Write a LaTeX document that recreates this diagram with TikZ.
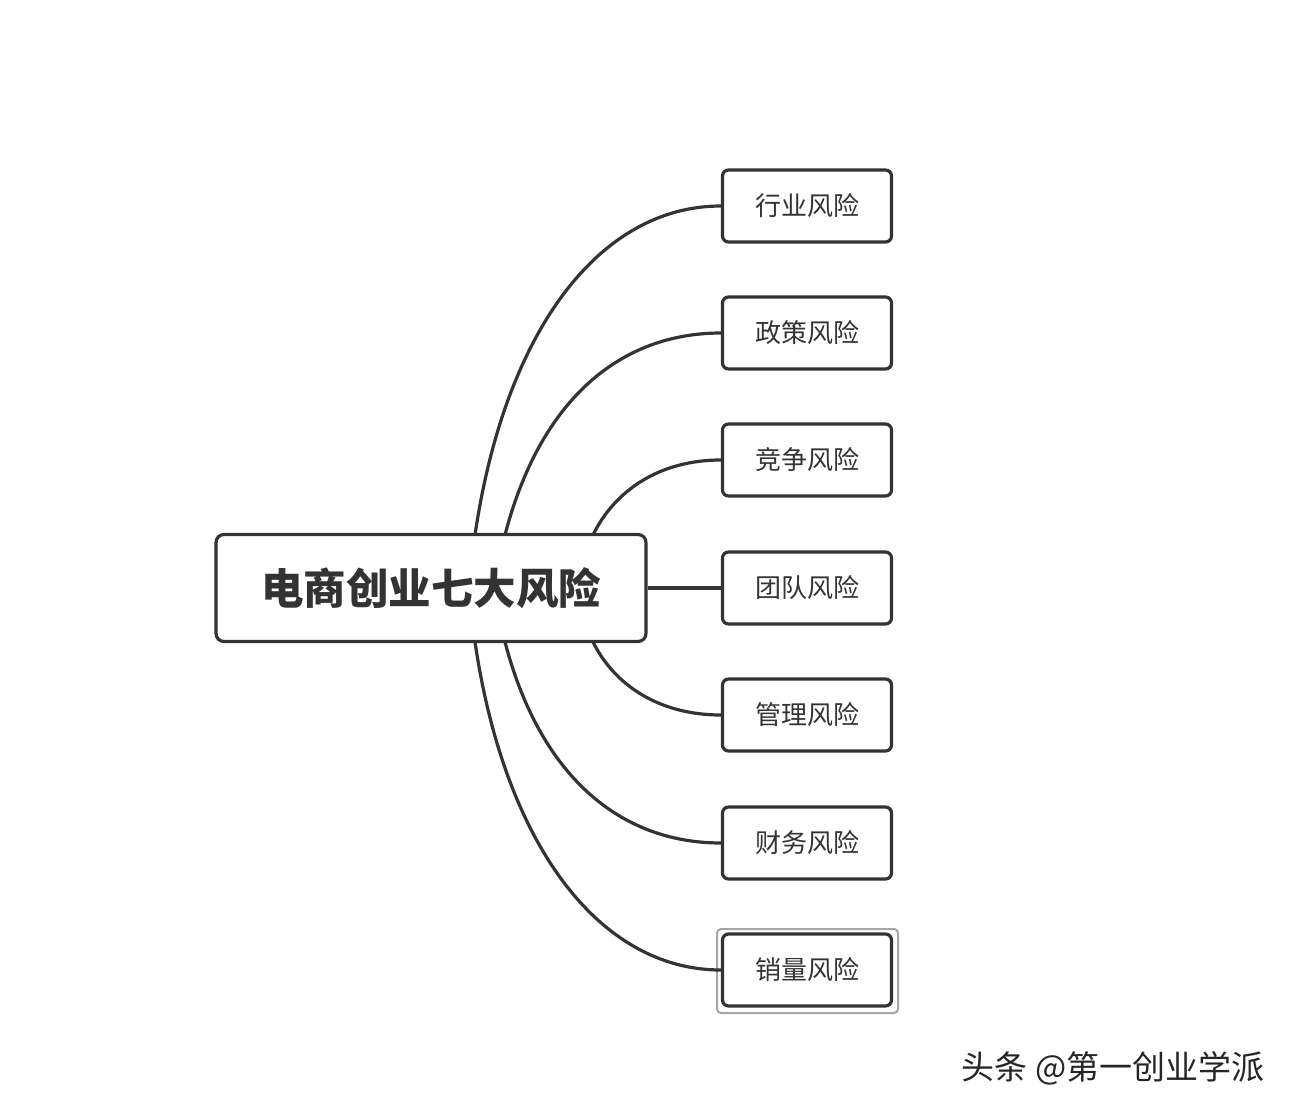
\documentclass[tikz,border=0pt]{standalone}
\usepackage{fontspec}
\setmainfont{Noto Sans CJK SC}
\begin{document}
\begin{tikzpicture}[x=1pt,y=-1pt,
  child/.style={draw=black!80,line width=3.2pt,rounded corners=6pt,minimum width=169pt,minimum height=72pt,font=\fontsize{26}{30}\selectfont,text=black!80},
  link/.style={draw=black!80,line width=3.2pt}]
\useasboundingbox (0,0) rectangle (1296,1113);
\node[draw=black!80,line width=3.2pt,rounded corners=8pt,minimum width=430pt,minimum height=107pt,font=\bfseries\fontsize{42.5}{48}\selectfont,text=black!80] (c) at (431,588) {电商创业七大风险};
\node[child] (a1) at (807,206) {行业风险};
\node[child] (a2) at (807,333) {政策风险};
\node[child] (a3) at (807,460) {竞争风险};
\node[child] (a4) at (807,588) {团队风险};
\node[child] (a5) at (807,715) {管理风险};
\node[child] (a6) at (807,843) {财务风险};
\node[child] (a7) at (807,970) {销量风险};
\draw[gray!70,line width=2pt,rounded corners=4pt] (717,929) rectangle (898,1013);
\coordinate (t1) at (475,535); \coordinate (t2) at (505,535); \coordinate (t3) at (593,535);
\coordinate (b1) at (475,642); \coordinate (b2) at (505,642); \coordinate (b3) at (593,642);
\draw[link] (t1) .. controls (505,330) and (600,206) .. (a1.west);
\draw[link] (t2) .. controls (540,400) and (620,333) .. (a2.west);
\draw[link] (t3) .. controls (615,490) and (660,460) .. (a3.west);
\draw[link] (c.east) -- (a4.west);
\draw[link] (b3) .. controls (615,686) and (660,715) .. (a5.west);
\draw[link] (b2) .. controls (540,776) and (620,843) .. (a6.west);
\draw[link] (b1) .. controls (505,846) and (600,970) .. (a7.west);
\node[font=\fontsize{33}{38}\selectfont,text=black!85,anchor=east] (wm) at (1268,1068) {头条 @第一创业学派};
\end{tikzpicture}
\end{document}
